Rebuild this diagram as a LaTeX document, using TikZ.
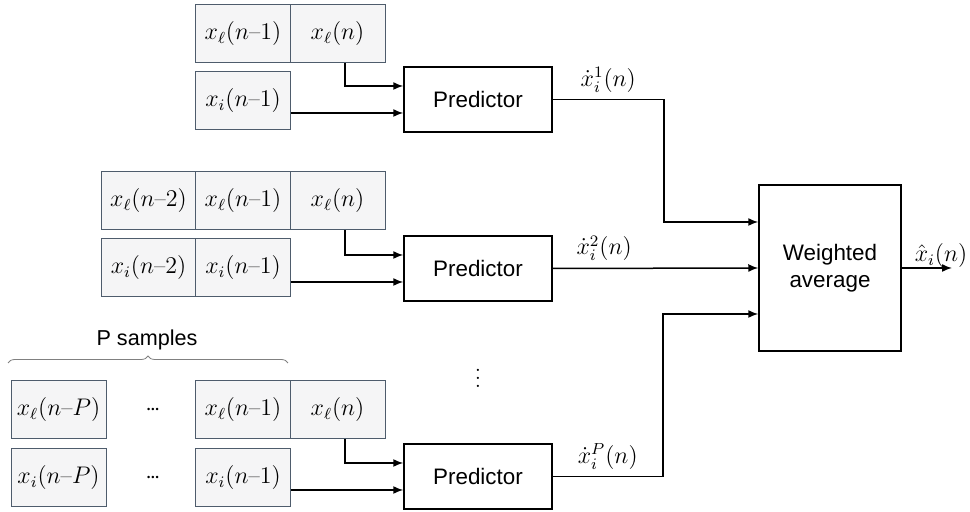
\documentclass[tikz,border=0pt]{standalone}
\usepackage{amsmath}
\usepackage{fontspec}
\setsansfont{Liberation Sans}
\usetikzlibrary{arrows.meta,decorations.pathreplacing}
\definecolor{cellline}{RGB}{78,92,108}
\definecolor{cellfill}{RGB}{245,245,246}
\newcommand{\xlag}[1]{$x_\ell(n\mbox{--}#1)$}
\newcommand{\xilag}[1]{$x_i(n\mbox{--}#1)$}
\newcommand{\skipdots}{$\mathord{\cdot}\kern-1.2pt\mathord{\cdot}\kern-1.2pt\mathord{\cdot}$}
\begin{document}
\begin{tikzpicture}[x=0.5pt, y=-0.5pt,
    cell/.style={draw=cellline, fill=cellfill, line width=0.5pt, minimum width=47.5pt, minimum height=29pt, inner sep=0pt, font=\fontsize{11.5}{13.5}\selectfont},
    blk/.style={draw, line width=0.75pt, inner sep=0pt, align=center, font=\sffamily\fontsize{11.2}{13.5}\selectfont},
    arr/.style={-{Latex[length=5pt,width=4pt]}, line width=0.75pt},
    lbl/.style={font=\fontsize{11.5}{13.5}\selectfont}]
    \useasboundingbox (0,0) rectangle (970,512);

    \node[cell] (xla1) at (243,33.5) {\xlag{1}};
    \node[cell] (xlb1) at (337.5,33.5) {$x_\ell(n)$};
    \node[cell] (xia1) at (243,100.5) {\xilag{1}};

    \node[cell] (xla2) at (148.5,201) {\xlag{2}};
    \node[cell] (xlb2) at (243,201) {\xlag{1}};
    \node[cell] (xlc2) at (337.5,201) {$x_\ell(n)$};
    \node[cell] (xia2) at (148.5,268) {\xilag{2}};
    \node[cell] (xib2) at (243,268) {\xilag{1}};

    \node[cell] (xla3) at (58.5,410) {\xlag{P}};
    \node[lbl] (dl3) at (153,410) {\skipdots};
    \node[cell] (xlb3) at (243,410) {\xlag{1}};
    \node[cell] (xlc3) at (337.5,410) {$x_\ell(n)$};
    \node[cell] (xia3) at (58.5,478) {\xilag{P}};
    \node[lbl] (di3) at (153,478) {\skipdots};
    \node[cell] (xib3) at (243,478) {\xilag{1}};

    \draw[decorate, decoration={brace, amplitude=3.5pt}, draw=gray, line width=0.4pt] (8,363) -- (288,363);
    \node[font=\sffamily\fontsize{10.8}{13}\selectfont] (psmp) at (147,340) {P samples};

    \node[blk, minimum width=74pt, minimum height=32.5pt] (pr1) at (478,99.5) {Predictor};
    \node[blk, minimum width=74pt, minimum height=32.5pt] (pr2) at (478,268.5) {Predictor};
    \node[blk, minimum width=74pt, minimum height=32.5pt] (pr3) at (478,476.5) {Predictor};
    \node[blk, minimum width=71pt, minimum height=83pt] (wa) at (830,268) {Weighted\\average};
    \node[lbl] (vd) at (478,372) {$\vdots$};

    \foreach \k in {1,2,3}{
        \coordinate (pr\k a) at ([yshift=6.75pt]pr\k.west);
        \coordinate (pr\k b) at ([yshift=-6.75pt]pr\k.west);
    }
    \coordinate (wa1) at ([yshift=23pt]wa.west);
    \coordinate (wa2) at (wa.west);
    \coordinate (wa3) at ([yshift=-23pt]wa.west);
    \coordinate (out) at (952,268);

    \draw[arr] ([xshift=3.75pt]xlb1.south) |- (pr1a);
    \draw[arr] (xia1.east |- pr1b) -- (pr1b);
    \draw[arr] ([xshift=3.75pt]xlc2.south) |- (pr2a);
    \draw[arr] (xib2.east |- pr2b) -- (pr2b);
    \draw[arr] ([xshift=3.75pt]xlc3.south) |- (pr3a);
    \draw[arr] (xib3.east |- pr3b) -- (pr3b);

    \draw[arr] (pr1.east) -- ++(111,0) node[lbl, midway, above] (d1) {$\dot x_i^1(n)$} |- (wa1);
    \draw[arr] (pr2.east) -- node[lbl, pos=0.25, above] (d2) {$\dot x_i^2(n)$} (wa2);
    \draw[arr] (pr3.east) -- ++(110,0) node[lbl, midway, above] (d3) {$\dot x_i^P(n)$} |- (wa3);
    \draw[arr] (wa.east) -- (out);
    \node[lbl] (xhat) at (941,256) {$\hat x_i(n)$};
\end{tikzpicture}
\end{document}
